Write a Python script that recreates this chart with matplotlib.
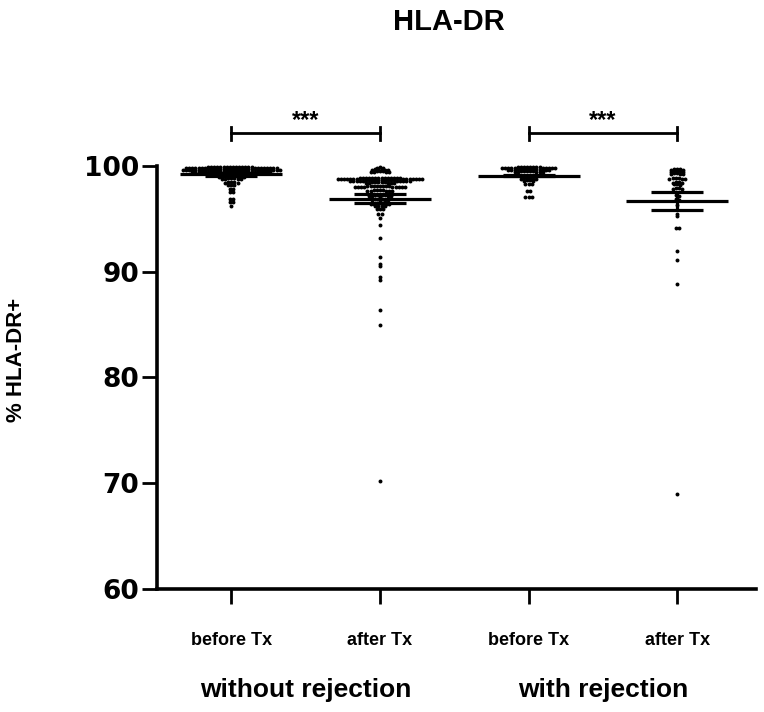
import numpy as np
import matplotlib
matplotlib.use('Agg')
import matplotlib.pyplot as plt
from matplotlib.transforms import blended_transform_factory

# data (% HLA-DR+ per patient)
groups = ['before Tx', 'after Tx', 'before Tx', 'after Tx']
conditions = ['without rejection', 'with rejection']

before_wo = [
    99.9, 99.8, 99.9, 99.9, 99.8, 99.8, 99.9, 99.8, 99.9, 99.8,
    99.8, 99.9, 99.9, 99.8, 99.9, 99.8, 99.8, 99.9, 99.9, 99.8,
    99.9, 99.8, 99.9, 99.8, 99.9, 99.8, 99.9, 99.8, 99.9, 99.8,
    99.7, 99.6, 99.7, 99.7, 99.6, 99.6, 99.7, 99.6, 99.7, 99.6,
    99.6, 99.7, 99.7, 99.6, 99.7, 99.6, 99.6, 99.7, 99.7, 99.6,
    99.7, 99.6, 99.7, 99.6, 99.7, 99.6, 99.7, 99.6, 99.7, 99.6,
    99.7, 99.6, 99.5, 99.4, 99.5, 99.4, 99.5, 99.4, 99.5, 99.4,
    99.5, 99.4, 99.5, 99.4, 99.5, 99.4, 99.5, 99.4, 99.5, 99.4,
    99.5, 99.4, 99.5, 99.4, 99.5, 99.4, 99.5, 99.4,
    99.3, 99.2, 99.3, 99.2, 99.3, 99.2, 99.2, 99.1, 99.0, 99.1,
    99.0, 99.1, 99.0, 99.1, 99.0, 99.0, 98.9, 98.8, 98.9, 98.8,
    98.9, 98.8, 98.8, 98.5, 98.4, 98.5, 98.4, 98.5, 98.2, 98.2,
    98.2, 97.8, 97.8, 97.7, 97.5, 97.5, 96.9, 96.9, 96.6, 96.6, 96.2,
]

after_wo = [
    99.9, 99.8, 99.8, 99.7, 99.6, 99.7, 99.6, 99.7, 99.6, 99.5,
    99.4, 99.5, 99.4, 99.5, 99.4, 99.4, 98.9, 98.8, 98.9, 98.8,
    98.9, 98.8, 98.9, 98.8, 98.9, 98.8, 98.9, 98.8, 98.9, 98.8,
    98.9, 98.8, 98.9, 98.8, 98.9, 98.8, 98.9, 98.8, 98.9, 98.8,
    98.9, 98.8, 98.9, 98.8, 98.7, 98.6, 98.7, 98.6, 98.7, 98.6,
    98.7, 98.6, 98.7, 98.6, 98.7, 98.6, 98.7, 98.6, 98.7, 98.6,
    98.7, 98.6, 98.7, 98.6, 98.5, 98.4, 98.5, 98.4, 98.5, 98.4,
    98.5, 98.4, 98.5, 98.4, 98.1, 98.0, 98.1, 98.0, 98.1, 98.0,
    98.1, 98.0, 98.1, 98.0, 98.1, 98.0, 98.1, 98.0, 98.1, 98.0, 98.0,
    97.7, 97.6, 97.7, 97.6, 97.7, 97.6, 97.7, 97.6, 97.6,
    97.3, 97.2, 97.3, 97.2, 97.3, 97.2, 97.3, 97.2,
    96.9, 96.8, 96.9, 96.8, 96.9, 96.8, 96.5, 96.4, 96.5, 96.4, 96.5, 96.4, 96.4,
    96.2, 96.2, 96.2, 96.2, 95.9, 95.9, 95.9, 95.5, 95.5, 95.1, 94.4,
    93.2, 91.4, 90.7, 90.5, 89.5, 89.2, 86.4, 85.0, 70.2,
]

before_w = [
    99.9, 99.8, 99.9, 99.8, 99.9, 99.8, 99.9, 99.8, 99.9, 99.8,
    99.9, 99.8, 99.9, 99.8, 99.9, 99.8, 99.8, 99.8, 99.7, 99.6,
    99.7, 99.6, 99.7, 99.6, 99.7, 99.6, 99.7, 99.6, 99.7, 99.6, 99.7, 99.6,
    99.5, 99.4, 99.5, 99.4, 99.5, 99.4, 99.5, 99.4, 99.5, 99.4,
    98.9, 98.8, 98.9, 98.8, 98.9, 98.8, 98.7, 98.6, 98.7, 98.6,
    98.3, 98.3, 98.3, 97.6, 97.6, 97.1, 97.1, 97.1,
]

after_w = [
    99.7, 99.6, 99.7, 99.6, 99.7, 99.5, 99.4, 99.5, 99.4, 99.5,
    99.2, 99.3, 99.2, 99.2, 99.3, 98.9, 98.8, 98.9, 98.8, 98.9, 98.8,
    98.5, 98.4, 98.5, 98.4, 98.3, 98.2, 98.3, 97.9, 97.8, 97.9, 97.8,
    97.3, 97.2, 96.9, 96.8, 96.3, 95.5, 95.3, 94.1, 94.1, 92.0, 91.1, 88.8, 69.0,
]

# mean +/- SEM as drawn in the figure
means = [99.2, 96.9, 99.1, 96.7]
sems = [0.1, 0.42, 0.08, 0.83]

# significance brackets (group index pairs)
sig_pairs = [(0, 1), (2, 3)]
sig_labels = ['***', '***']

all_data = [before_wo, after_wo, before_w, after_w]


def swarm_x(vals, center, dx=0.021):
    # prism-like scatter: points in the same row are spread side by side
    vals = np.sort(np.asarray(vals, dtype=float))[::-1]
    rows = np.round(vals * 10).astype(int) // 2
    xs = np.zeros(len(vals))
    for r in np.unique(rows):
        idx = np.where(rows == r)[0]
        n = len(idx)
        pos = (np.arange(n) - (n - 1) / 2) * dx
        pos = pos[np.argsort(np.abs(pos), kind='stable')]
        xs[idx] = center + pos
    return xs, vals


fig = plt.figure(figsize=(7.64, 7.12), dpi=100)
ax = fig.add_axes([157 / 764, 1 - 589 / 712, 599 / 764, 423 / 712])

for i, d in enumerate(all_data):
    xs, ys = swarm_x(d, i)
    ax.scatter(xs, ys, s=8, c='black', linewidths=0, zorder=3, clip_on=False)

# mean and SEM
for i in range(4):
    m, e = means[i], sems[i]
    ax.hlines(m, i - 0.343, i + 0.343, color='black', lw=2.3, zorder=4)
    ax.hlines([m - e, m + e], i - 0.175, i + 0.175, color='black', lw=2.3, zorder=4)
    ax.vlines(i, m - e, m + e, color='black', lw=2.3, zorder=4)

# significance brackets
for (a, b), lab in zip(sig_pairs, sig_labels):
    ax.plot([a, b], [103.1, 103.1], color='black', lw=2, clip_on=False)
    ax.plot([a, a], [102.5, 103.7], color='black', lw=2, clip_on=False)
    ax.plot([b, b], [102.5, 103.7], color='black', lw=2, clip_on=False)
    ax.text((a + b) / 2, 104.3, lab, ha='center', va='center', fontsize=17,
            fontweight='bold', family='Liberation Sans')

ax.set_xlim(-0.5, 3.53)
ax.set_ylim(60, 100)
ax.set_yticks([60, 70, 80, 90, 100])
ax.set_xticks(range(4))
ax.set_xticklabels(groups, fontsize=13, fontweight='bold', family='Liberation Sans')
for t in ax.get_yticklabels():
    t.set_fontsize(19)
    t.set_fontweight('bold')
    t.set_family('DejaVu Sans')

ax.spines['top'].set_visible(False)
ax.spines['right'].set_visible(False)
ax.spines['left'].set_linewidth(2.6)
ax.spines['bottom'].set_linewidth(2.6)
ax.tick_params(axis='y', length=11, width=2, pad=2)
ax.tick_params(axis='x', length=11, width=2, pad=20)

trans = blended_transform_factory(ax.transData, fig.transFigure)
for k, cond in enumerate(conditions):
    ax.text(2 * k + 0.5, 1 - 690 / 712, cond, transform=trans, ha='center', va='center',
            fontsize=19, fontweight='bold', family='Liberation Sans')

fig.text(449 / 764, 1 - 22 / 712, 'HLA-DR', ha='center', va='center', fontsize=21,
         fontweight='bold', family='Liberation Sans')
fig.text(17 / 764, 1 - 360 / 712, '% HLA-DR+', ha='center', va='center', rotation=90,
         fontsize=16, fontweight='bold', family='Liberation Sans')

fig.savefig('out.png', dpi=100)
